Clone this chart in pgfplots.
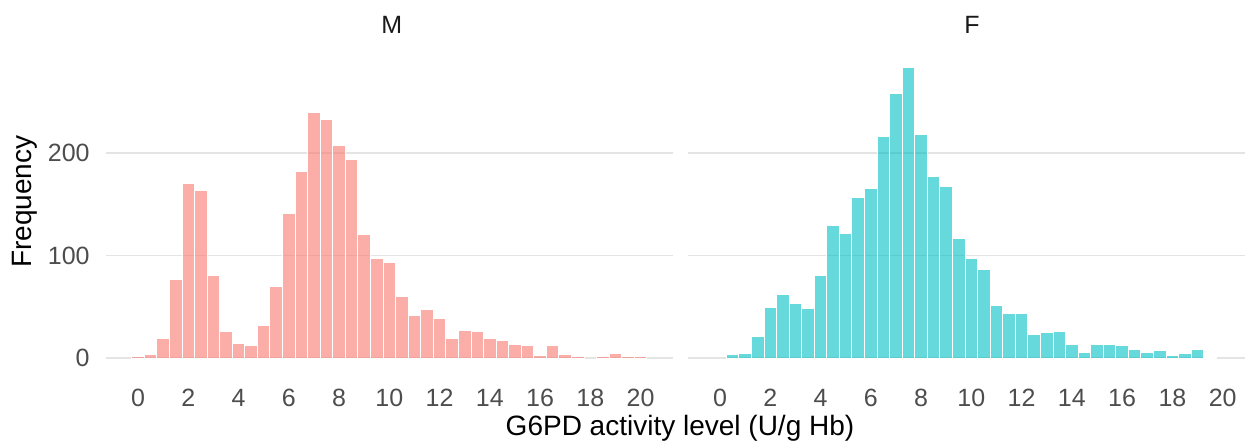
\documentclass[border=0pt]{standalone}
\usepackage{pgfplots}
\pgfplotsset{compat=1.18}
\usepackage{fontspec}
\setmainfont{Liberation Sans}
\definecolor{mcol}{HTML}{F8766D}
\definecolor{fcol}{HTML}{00BFC4}
\definecolor{gridc}{RGB}{228,228,228}
\definecolor{tickc}{RGB}{77,77,77}
\definecolor{titc}{RGB}{26,26,26}
\pgfplotsset{
  facet/.style={
    x=12.565pt, y=0.514pt,
    ymin=-14.2, ymax=297.4,
    axis line style={draw=none},
    tick style={draw=none},
    ymajorgrids, xmajorgrids=false,
    grid style={gridc, line width=0.9pt},
    xtick={0,2,...,20}, ytick={0,100,200},
    /pgf/number format/assume math mode=true,
    ticklabel style={font=\fontsize{12.5}{14}\selectfont, text=tickc, inner sep=0pt},
    xticklabel style={anchor=north, yshift=-8pt},
    yticklabel style={anchor=east, xshift=-8pt},
    clip=false,
  },
  hbar/.style={ybar, bar width=0.5, bar shift=0pt, draw=white, line width=0.5pt, fill opacity=0.6, draw opacity=1},
}
\begin{document}
\begin{tikzpicture}
\begin{axis}[facet, at={(53pt,34.55pt)}, anchor=south west, xmin=-1.275, xmax=21.275]
\addplot[hbar, fill=mcol] coordinates {
(0,2) (0.5,4) (1,19) (1.5,77) (2,170) (2.5,163) (3,81) (3.5,26) (4,14) (4.5,12)
(5,32) (5.5,70) (6,141) (6.5,182) (7,239) (7.5,232) (8,207) (8.5,193) (9,120) (9.5,97)
(10,93) (10.5,60) (11,42) (11.5,47) (12,39) (12.5,19) (13,27) (13.5,26) (14,19) (14.5,17)
(15,13) (15.5,12) (16,3) (16.5,12) (17,4) (17.5,2) (18.5,2) (19,5) (19.5,2) (20,2)
};
\end{axis}
\begin{axis}[facet, at={(344pt,34.55pt)}, anchor=south west, xmin=-1.275, xmax=20.89, yticklabels={}]
\addplot[hbar, fill=fcol] coordinates {
(0.5,4) (1,5) (1.5,21) (2,49) (2.5,62) (3,53) (3.5,48) (4,81) (4.5,129)
(5,121) (5.5,156) (6,165) (6.5,216) (7,258) (7.5,283) (8,218) (8.5,177) (9,167) (9.5,117)
(10,97) (10.5,86) (11,51) (11.5,44) (12,44) (12.5,23) (13,25) (13.5,26) (14,13) (14.5,6)
(15,13) (15.5,13) (16,12) (16.5,9) (17,6) (17.5,8) (18,3) (18.5,5) (19,9) (19.5,1)
};
\end{axis}
\node[font=\fontsize{12.5}{14}\selectfont, text=titc, inner sep=0pt] at (195.85pt,208.5pt) {M};
\node[font=\fontsize{12.5}{14}\selectfont, text=titc, inner sep=0pt] at (486pt,208.5pt) {F};
\node[font=\fontsize{14}{16}\selectfont, inner sep=0pt, rotate=90, anchor=base] at (15.85pt,120.15pt) {Frequency};
\node[font=\fontsize{14}{16}\selectfont, inner sep=0pt, anchor=base] at (340pt,3.2pt) {G6PD activity level (U/g Hb)};
\pgfresetboundingbox
\useasboundingbox (0pt,0pt) rectangle (622.5pt,221pt);
\end{tikzpicture}
\end{document}
